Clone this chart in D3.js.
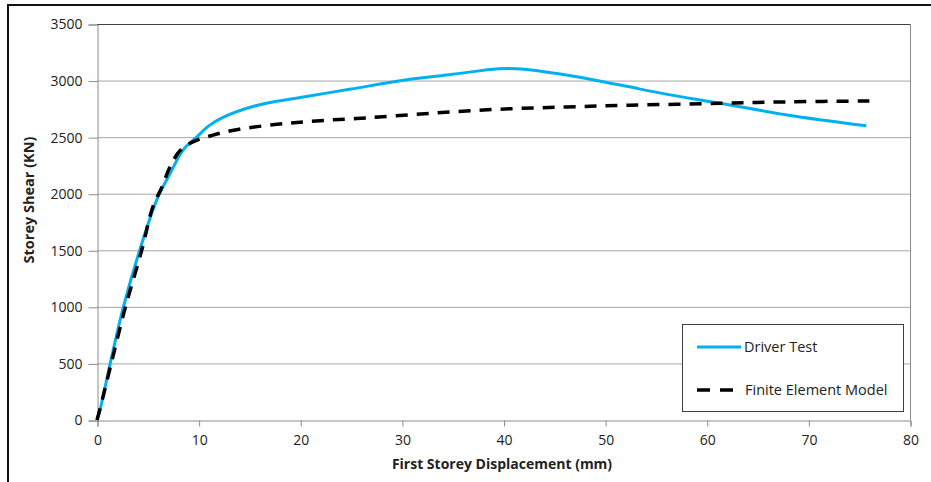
<!DOCTYPE html>
<html>
<head>
<meta charset="utf-8">
<script src="https://cdn.jsdelivr.net/npm/d3@7"></script>
<style>
  html, body { margin: 0; padding: 0; background: #fff; }
  svg { display: block; }
  text { font-family: "Open Sans", "Noto Sans", sans-serif; fill: #222; }
</style>
</head>
<body>
<svg id="chart" width="931" height="482"></svg>
<script>
// Pushover response: storey shear vs first storey displacement
const driverDisp  = [0, 0.3, 1.3, 2.6, 4.2, 5.9, 7.2, 8.5, 9.8, 11.0, 12.4, 15.7, 20, 25, 30, 35, 39.5, 41.3, 46.2, 51.5, 56, 61.3, 67.9, 75.7];
const driverShear = [0, 90, 500, 1000, 1500, 1950, 2180, 2390, 2500, 2600, 2675, 2780, 2850, 2925, 3000, 3055, 3105, 3105, 3050, 2960, 2880, 2800, 2696, 2600];

const femDisp  = [0, 0.3, 1.4, 2.8, 4.4, 5.5, 6.4, 7.2, 8.2, 9.5, 11.5, 14, 17.7, 21, 26.5, 33, 39.6, 46.2, 52.4, 61.3, 68, 76];
const femShear = [0, 100, 500, 1000, 1500, 1885, 2060, 2240, 2385, 2460, 2520, 2570, 2613, 2640, 2670, 2712, 2747, 2767, 2782, 2799, 2812, 2820];

const xTicks = [0, 10, 20, 30, 40, 50, 60, 70, 80];
const yTicks = [0, 500, 1000, 1500, 2000, 2500, 3000, 3500];

const seriesNames = ["Driver Test", "Finite Element Model"];
const xTitle = "First Storey Displacement (mm)";
const yTitle = "Storey Shear (KN)";

const svg = d3.select("#chart");

const x = d3.scaleLinear().domain([0, 80]).range([97, 910]);
const y = d3.scaleLinear().domain([0, 3500]).range([420, 24]);

// outer frame (left and top edges are visible)
svg.append("path")
  .attr("d", "M8,482 L8,5 L931,5")
  .attr("fill", "none").attr("stroke", "#111").attr("stroke-width", 2);

// horizontal gridlines
svg.append("g").selectAll("line").data(yTicks.slice(1, -1)).join("line")
  .attr("x1", x(0)).attr("x2", x(80))
  .attr("y1", d => y(d) + 0.5).attr("y2", d => y(d) + 0.5)
  .attr("stroke", "#a6a6a6").attr("stroke-width", 1);

// plot area border: top and right
svg.append("line").attr("x1", x(0)).attr("x2", x(80) + 0.5)
  .attr("y1", y(3500) + 0.5).attr("y2", y(3500) + 0.5)
  .attr("stroke", "#404040").attr("stroke-width", 1);
svg.append("line").attr("x1", x(80) + 0.5).attr("x2", x(80) + 0.5)
  .attr("y1", y(3500)).attr("y2", y(0))
  .attr("stroke", "#8c8c8c").attr("stroke-width", 1);

// y axis
const yAxis = d3.axisLeft(y).tickValues(yTicks).tickSize(9).tickPadding(6).tickFormat(d3.format("d"));
const gy = svg.append("g").attr("transform", `translate(${x(0) + 0.5},0.5)`).call(yAxis);
gy.select(".domain").attr("stroke", "#8c8c8c");
gy.selectAll(".tick line").attr("stroke", "#8c8c8c");
gy.selectAll(".tick text").style("font-size", "14px").attr("fill", "#333")
  .style("font-family", "'Open Sans', sans-serif");

// x axis
const xAxis = d3.axisBottom(x).tickValues(xTicks).tickSize(6).tickPadding(9).tickFormat(d3.format("d"));
const gx = svg.append("g").attr("transform", `translate(0.5,${y(0) + 0.5})`).call(xAxis);
gx.select(".domain").attr("stroke", "#8c8c8c");
gx.selectAll(".tick line").attr("stroke", "#8c8c8c");
gx.selectAll(".tick text").style("font-size", "14px").attr("fill", "#333")
  .style("font-family", "'Open Sans', sans-serif");

// axis titles
svg.append("text").attr("x", 502).attr("y", 469).attr("text-anchor", "middle")
  .style("font-size", "14px").style("font-weight", "bold").text(xTitle);
svg.append("text").attr("transform", "translate(34,200) rotate(-90)").attr("text-anchor", "middle")
  .style("font-size", "14.5px").style("font-weight", "bold").text(yTitle);

// curves
const line = d3.line().x(d => x(d[0])).y(d => y(d[1])).curve(d3.curveCatmullRom.alpha(0.5));
const driverPts = driverDisp.map((d, i) => [d, driverShear[i]]);
const femPts = femDisp.map((d, i) => [d, femShear[i]]);

svg.append("path").datum(driverPts).attr("d", line)
  .attr("fill", "none").attr("stroke", "#00b0f0").attr("stroke-width", 3)
  .attr("stroke-linejoin", "round");
svg.append("path").datum(femPts).attr("d", line)
  .attr("fill", "none").attr("stroke", "#000").attr("stroke-width", 3.5)
  .attr("stroke-dasharray", "12,9");

// legend
const lg = svg.append("g");
lg.append("rect").attr("x", 682.5).attr("y", 324.5).attr("width", 221).attr("height", 87)
  .attr("fill", "#fff").attr("stroke", "#404040").attr("stroke-width", 1);
lg.append("line").attr("x1", 697).attr("x2", 741).attr("y1", 347).attr("y2", 347)
  .attr("stroke", "#00b0f0").attr("stroke-width", 3);
lg.append("line").attr("x1", 697).attr("x2", 733).attr("y1", 390).attr("y2", 390)
  .attr("stroke", "#000").attr("stroke-width", 3.5).attr("stroke-dasharray", "13,10");
lg.append("text").attr("x", 744).attr("y", 352).style("font-size", "14.5px").attr("fill", "#333").text(seriesNames[0]);
lg.append("text").attr("x", 745).attr("y", 395).style("font-size", "14.5px").attr("fill", "#333").text(seriesNames[1]);
</script>
</body>
</html>
